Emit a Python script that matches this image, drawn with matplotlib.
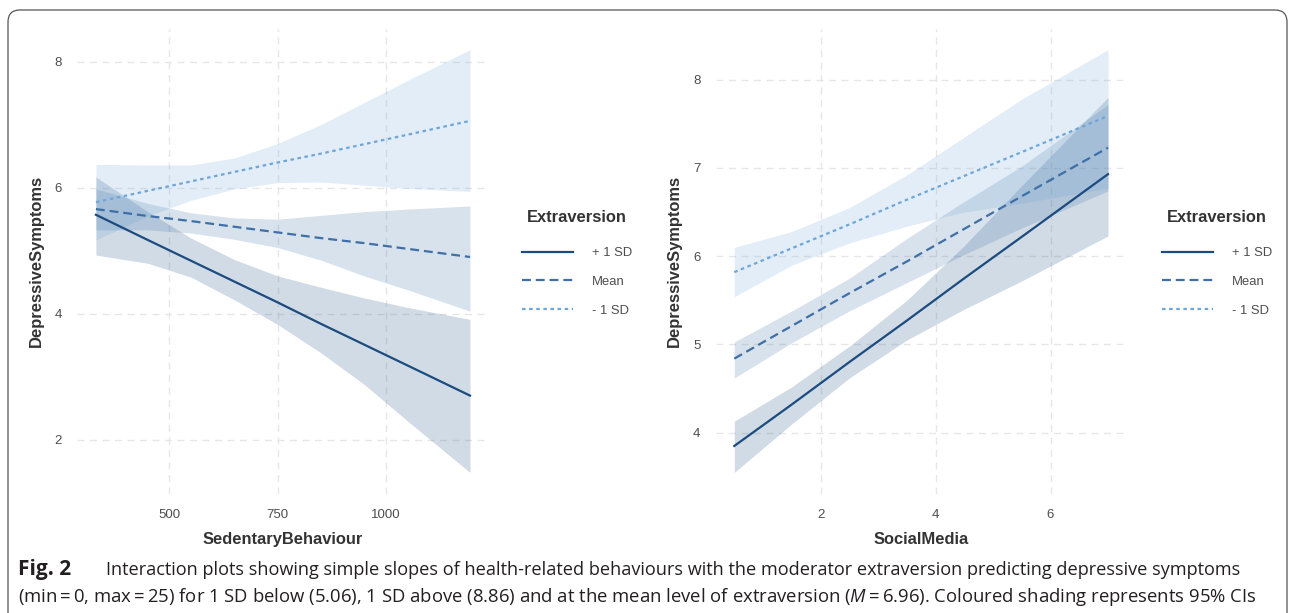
import matplotlib
matplotlib.use("Agg")
import matplotlib.pyplot as plt
from matplotlib.patches import FancyBboxPatch
from matplotlib.transforms import IdentityTransform

plt.rcParams['font.family'] = ['Liberation Sans', 'DejaVu Sans']

levels = ['+ 1 SD', 'Mean', '- 1 SD']
line_colors = ['#1b4b7f', '#3e6fa6', '#6fa6d8']
line_styles = ['-', (0, (4.0, 2.2)), (0, (1.6, 1.6))]

# left panel: sedentary behaviour
sed_x = [330, 450, 550, 650, 750, 850, 950, 1050, 1195]
sed_fit = [
    [5.57, 5.17, 4.84, 4.51, 4.18, 3.84, 3.51, 3.18, 2.70],
    [5.66, 5.55, 5.47, 5.38, 5.29, 5.20, 5.12, 5.03, 4.90],
    [5.77, 5.95, 6.10, 6.25, 6.40, 6.54, 6.69, 6.84, 7.06],
]
sed_lo = [
    [4.93, 4.80, 4.58, 4.22, 3.83, 3.38, 2.88, 2.30, 1.48],
    [5.33, 5.33, 5.28, 5.18, 5.05, 4.85, 4.60, 4.38, 4.04],
    [5.17, 5.55, 5.80, 5.98, 6.08, 6.09, 6.04, 5.99, 5.94],
]
sed_hi = [
    [6.17, 5.62, 5.20, 4.86, 4.60, 4.42, 4.25, 4.10, 3.91],
    [5.98, 5.75, 5.60, 5.52, 5.50, 5.56, 5.62, 5.66, 5.71],
    [6.37, 6.36, 6.36, 6.47, 6.70, 7.00, 7.35, 7.70, 8.19],
]

# right panel: social media
soc_x = [0.5, 1.5, 2.5, 3.5, 4.5, 5.5, 7.0]
soc_fit = [
    [3.85, 4.32, 4.80, 5.27, 5.75, 6.22, 6.93],
    [4.84, 5.21, 5.58, 5.94, 6.31, 6.68, 7.23],
    [5.82, 6.09, 6.36, 6.64, 6.91, 7.18, 7.59],
]
soc_lo = [
    [3.55, 4.10, 4.62, 5.05, 5.40, 5.72, 6.23],
    [4.62, 5.02, 5.38, 5.70, 6.02, 6.32, 6.74],
    [5.54, 5.90, 6.15, 6.34, 6.50, 6.60, 6.77],
]
soc_hi = [
    [4.13, 4.52, 4.98, 5.50, 6.12, 6.80, 7.80],
    [5.03, 5.38, 5.75, 6.20, 6.62, 7.02, 7.72],
    [6.10, 6.28, 6.55, 6.92, 7.35, 7.78, 8.34],
]

sed_xticks = [500, 750, 1000]
sed_yticks = [2, 4, 6, 8]
soc_xticks = [2, 4, 6]
soc_yticks = [4, 5, 6, 7, 8]

W, H = 1295, 613
fig = plt.figure(figsize=(W / 100, H / 100), dpi=100)

ax1 = fig.add_axes([77.2 / W, 0.1948, 411.5 / W, 0.7586])
ax2 = fig.add_axes([715.6 / W, 0.1948, 411.1 / W, 0.7586])


def panel(ax, x, fit, lo, hi, xticks, yticks, xlabel):
    handles = []
    for i in range(3):
        ax.fill_between(x, lo[i], hi[i], color=line_colors[i], alpha=0.2,
                        lw=0, zorder=2)
    for i in range(3):
        h, = ax.plot(x, fit[i], color=line_colors[i], ls=line_styles[i],
                     lw=1.6, zorder=3)
        handles.append(h)
    ax.margins(0.05)
    ax.set_xticks(xticks)
    ax.set_yticks(yticks)
    ax.grid(True, color='#e6e6e6', ls=(0, (5, 4)), lw=1.0, zorder=0)
    for s in ax.spines.values():
        s.set_visible(False)
    ax.tick_params(length=0, labelsize=9.5, labelcolor='#4d4d4d', pad=11)
    ax.set_xlabel(xlabel, fontsize=11.9, fontweight='bold', color='#333333',
                  labelpad=8)
    ax.set_ylabel('DepressiveSymptoms', fontsize=11.9, fontweight='bold',
                  color='#333333', labelpad=8)
    return handles


h1 = panel(ax1, sed_x, sed_fit, sed_lo, sed_hi, sed_xticks, sed_yticks,
           'SedentaryBehaviour')
h2 = panel(ax2, soc_x, soc_fit, soc_lo, soc_hi, soc_xticks, soc_yticks,
           'SocialMedia')

for ax, h, x0 in [(ax1, h1, 510 / W), (ax2, h2, 1150 / W)]:
    leg = ax.legend(h, levels, title='Extraversion', loc='upper left',
                    bbox_to_anchor=(x0, 1 - 198 / H),
                    bbox_transform=fig.transFigure, frameon=False,
                    handlelength=3.9, handletextpad=1.5, labelspacing=1.28,
                    fontsize=9.4, title_fontsize=11.9)
    leg.get_title().set_fontweight('bold')
    leg.get_title().set_color('#333333')
    leg._legend_box.sep = 16
    for t in leg.get_texts():
        t.set_color('#4d4d4d')

# rounded frame round the figure
fig.add_artist(FancyBboxPatch((8, -30), 1279, 633,
                              boxstyle='round,pad=0,rounding_size=12',
                              transform=IdentityTransform(), fill=False,
                              ec='#555555', lw=0.9))

cap_font = ['Open Sans', 'DejaVu Sans']
plt.rcParams['mathtext.fontset'] = 'custom'
plt.rcParams['mathtext.it'] = 'Open Sans:italic'
plt.rcParams['mathtext.rm'] = 'Open Sans'

fig.text(18 / W, 1 - 570 / H, 'Fig. 2', family=cap_font, fontweight='bold',
         fontsize=15, va='center', ha='left', color='#231f20')
fig.text(106 / W, 1 - 570 / H,
         'Interaction plots showing simple slopes of health-related behaviours '
         'with the moderator extraversion predicting depressive symptoms',
         family=cap_font, fontsize=13.1, va='center', ha='left',
         color='#231f20')
fig.text(18 / W, 1 - 597 / H,
         '(min\u2009=\u20090, max\u2009=\u200925) for 1 SD below (5.06), 1 SD above (8.86) '
         'and at the mean level of extraversion ($M$\u2009=\u20096.96). '
         'Coloured shading represents 95% CIs',
         family=cap_font, fontsize=13.3, va='center', ha='left',
         color='#231f20')

fig.savefig('out.png', dpi=100)
